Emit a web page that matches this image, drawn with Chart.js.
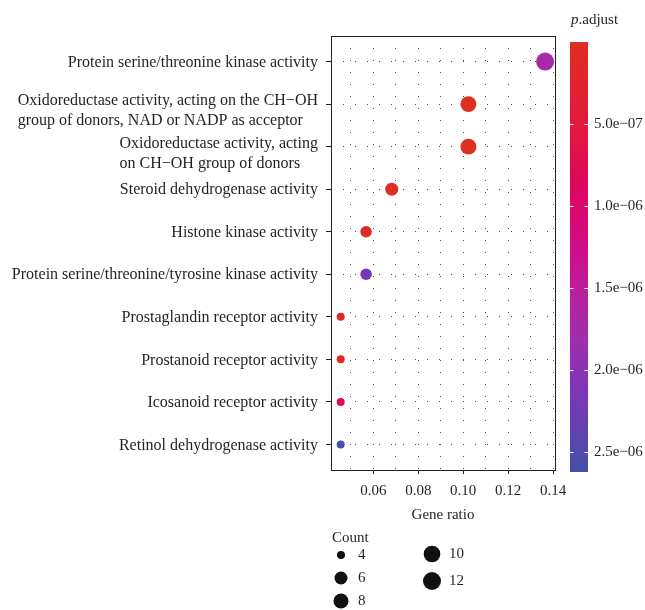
<!DOCTYPE html>
<html><head><meta charset="utf-8">
<script src="https://cdn.jsdelivr.net/npm/chart.js@4"></script>
<style>html,body{margin:0;padding:0;background:#fff}#wrap{width:645px;height:610px;position:relative}</style>
</head><body><div id="wrap"><canvas id="c"></canvas></div>
<script>
// ---------- data ----------
const categories = [
  ["Protein serine/threonine kinase activity"],
  ["Oxidoreductase activity, acting on the CH\u2212OH", "group of donors, NAD or NADP as acceptor"],
  ["Oxidoreductase activity, acting", "on CH\u2212OH group of donors"],
  ["Steroid dehydrogenase activity"],
  ["Histone kinase activity"],
  ["Protein serine/threonine/tyrosine kinase activity"],
  ["Prostaglandin receptor activity"],
  ["Prostanoid receptor activity"],
  ["Icosanoid receptor activity"],
  ["Retinol dehydrogenase activity"]
];
const counts = [12, 9, 9, 6, 5, 5, 4, 4, 4, 4];
const geneRatio = [0.1364, 0.1023, 0.1023, 0.0682, 0.0568, 0.0568, 0.0455, 0.0455, 0.0455, 0.0455];
const pAdjust = [1.72e-6, 2e-9, 2e-9, 6e-8, 9e-8, 2.14e-6, 1.2e-7, 1.2e-7, 7.8e-7, 2.62e-6];
const xGridValues = [0.05, 0.06, 0.07, 0.08, 0.09, 0.10, 0.11, 0.12, 0.13, 0.14];
const xTickLabels = ["", "0.06", "", "0.08", "", "0.10", "", "0.12", "", "0.14"];
const colorbarTicks = [5e-7, 1e-6, 1.5e-6, 2e-6, 2.5e-6];
const colorbarLabels = ["5.0e\u221207", "1.0e\u221206", "1.5e\u221206", "2.0e\u221206", "2.5e\u221206"];
const sizeLegendCounts = [4, 6, 8, 10, 12];

// ---------- styles ----------
const FONT = '"Liberation Serif", "Times New Roman", serif';
const TEXT = '#231f20';
const colorStops = [
  [0.00, [221, 48, 32]],
  [0.20, [226, 24, 62]],
  [0.32, [224, 6, 90]],
  [0.50, [203, 14, 142]],
  [0.60, [180, 35, 160]],
  [0.70, [158, 46, 176]],
  [0.80, [128, 52, 182]],
  [0.90, [98, 66, 174]],
  [1.00, [68, 80, 166]]
];
const pMin = Math.min(...pAdjust), pMax = Math.max(...pAdjust);
function colorAt(t) {
  t = Math.max(0, Math.min(1, t));
  for (let i = 1; i < colorStops.length; i++) {
    if (t <= colorStops[i][0]) {
      const [t0, c0] = colorStops[i - 1], [t1, c1] = colorStops[i];
      const f = (t - t0) / (t1 - t0);
      const c = c0.map((v, k) => Math.round(v + (c1[k] - v) * f));
      return `rgb(${c[0]},${c[1]},${c[2]})`;
    }
  }
  const c = colorStops[colorStops.length - 1][1];
  return `rgb(${c[0]},${c[1]},${c[2]})`;
}
function pColor(p) { return colorAt((p - pMin) / (pMax - pMin)); }
const cMin = Math.min(...counts), cMax = Math.max(...counts);
function radiusFor(c) { return 4 + 5 * Math.sqrt((c - cMin) / (cMax - cMin)); }

// ---------- plugins ----------
const framePlugin = {
  id: 'frame',
  beforeDatasetsDraw(chart) {
    const { ctx, chartArea: a } = chart;
    ctx.save();
    ctx.strokeStyle = '#231f20';
    ctx.lineWidth = 1;
    ctx.setLineDash([]);
    ctx.strokeRect(Math.round(a.left) + 0.5, Math.round(a.top) + 0.5, Math.round(a.right - a.left), Math.round(a.bottom - a.top));
    ctx.restore();
  }
};
const yLabelPlugin = {
  id: 'yLabels',
  afterDraw(chart) {
    const { ctx, scales: { y }, chartArea } = chart;
    ctx.save();
    ctx.font = '16px ' + FONT;
    ctx.fillStyle = TEXT;
    ctx.textBaseline = 'middle';
    ctx.textAlign = 'left';
    const right = chartArea.left - 13;
    categories.forEach((lines, i) => {
      const yc = y.getPixelForValue(i + 1);
      const w = Math.max(...lines.map(l => ctx.measureText(l).width));
      const x0 = right - w;
      const start = lines.length > 1 ? yc - 3 : yc + 1;
      lines.forEach((l, k) => ctx.fillText(l, x0, start + k * 20));
    });
    ctx.restore();
  }
};
const legendPlugin = {
  id: 'legends',
  afterDraw(chart) {
    const { ctx } = chart;
    ctx.save();
    // colorbar
    const bx = 570, bw = 18, by = 42, bh = 430;
    const g = ctx.createLinearGradient(0, by, 0, by + bh);
    colorStops.forEach(([t, c]) => g.addColorStop(t, `rgb(${c[0]},${c[1]},${c[2]})`));
    ctx.fillStyle = g;
    ctx.fillRect(bx, by, bw, bh);
    ctx.font = '15px ' + FONT;
    ctx.textBaseline = 'middle';
    ctx.textAlign = 'left';
    colorbarTicks.forEach((v, i) => {
      const yy = Math.round(by + (v - pMin) / (pMax - pMin) * bh) + 0.5;
      ctx.strokeStyle = '#fff';
      ctx.lineWidth = 1;
      ctx.beginPath();
      ctx.moveTo(bx, yy); ctx.lineTo(bx + 3.5, yy);
      ctx.moveTo(bx + bw - 3.5, yy); ctx.lineTo(bx + bw, yy);
      ctx.stroke();
      ctx.fillStyle = TEXT;
      ctx.fillText(colorbarLabels[i], bx + bw + 6, yy);
    });
    // colorbar title
    ctx.fillStyle = TEXT;
    ctx.font = 'italic 15px ' + FONT;
    ctx.fillText('p', 571, 20);
    const pw = ctx.measureText('p').width;
    ctx.font = '15px ' + FONT;
    ctx.fillText('.adjust', 571 + pw, 20);
    // size legend
    ctx.fillText('Count', 332, 538);
    const pos = [[341, 555], [341, 578], [341, 601], [432, 554], [432, 581]];
    sizeLegendCounts.forEach((c, i) => {
      const [cx, cy] = pos[i];
      ctx.fillStyle = '#111';
      ctx.beginPath();
      ctx.arc(cx, cy, radiusFor(c), 0, Math.PI * 2);
      ctx.fill();
      ctx.fillStyle = TEXT;
      ctx.fillText(String(c), cx + 17, cy);
    });
    ctx.restore();
  }
};

// ---------- chart ----------
new Chart(document.getElementById('c'), {
  type: 'scatter',
  data: {
    datasets: [{
      data: geneRatio.map((x, i) => ({ x, y: i + 1 })),
      pointRadius: counts.map(radiusFor),
      pointHoverRadius: counts.map(radiusFor),
      pointBackgroundColor: pAdjust.map(pColor),
      pointBorderWidth: 0,
      pointBorderColor: 'rgba(0,0,0,0)'
    }]
  },
  options: {
    responsive: true,
    maintainAspectRatio: false,
    animation: false,
    layout: { padding: { top: 36, right: 90, bottom: 80, left: 0 } },
    plugins: { legend: { display: false }, tooltip: { enabled: false } },
    scales: {
      x: {
        type: 'linear', min: 0.0412, max: 0.1408,
        afterBuildTicks: s => { s.ticks = xGridValues.map(v => ({ value: v })); },
        afterFit: s => { s.height = 60; },
        ticks: {
          font: { family: FONT, size: 15 }, color: TEXT, padding: 8, maxRotation: 0, autoSkip: false,
          callback: (v, i) => xTickLabels[i]
        },
        grid: {
          color: '#4a4a4a', lineWidth: 1, tickLength: 4,
          tickColor: c => xTickLabels[c.index] ? '#231f20' : 'rgba(0,0,0,0)'
        },
        border: { display: false, dash: [1, 11] },
        title: { display: true, text: 'Gene ratio', font: { family: FONT, size: 15 }, color: TEXT, padding: { top: 0, bottom: 6 } }
      },
      y: {
        type: 'linear', min: 0.4, max: 10.6, reverse: true,
        afterBuildTicks: s => { s.ticks = categories.map((_, i) => ({ value: i + 1 })); },
        afterFit: s => { s.width = 331; },
        ticks: { display: false },
        grid: { color: '#4a4a4a', lineWidth: 1, tickLength: 5, tickColor: '#231f20' },
        border: { display: false, dash: [1, 11] }
      }
    }
  },
  plugins: [framePlugin, yLabelPlugin, legendPlugin]
});
</script></body></html>
